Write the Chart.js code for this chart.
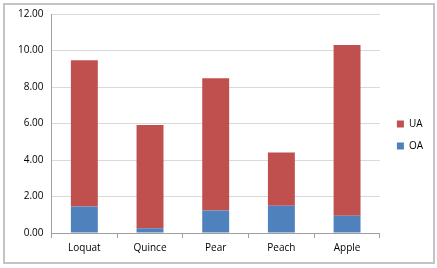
<!DOCTYPE html>
<html>
<head>
<meta charset="utf-8">
<script src="https://cdn.jsdelivr.net/npm/chart.js@4.4.0/dist/chart.umd.min.js"></script>
<style>
  body { margin: 0; background: #fff; }
  #wrap { position: relative; width: 437px; height: 268px; }
  #frame { position: absolute; left: 3px; top: 3px; width: 428px; height: 257px; border: 2px solid #c4c4c4; pointer-events: none; }
</style>
</head>
<body>
<div id="wrap">
  <canvas id="grafico" width="437" height="268"></canvas>
  <div id="frame"></div>
</div>
<script>
var frutas = ['Loquat', 'Quince', 'Pear', 'Peach', 'Apple']
var valoresOA = [1.45, 0.26, 1.23, 1.49, 0.94]
var valoresUA = [8.01, 5.66, 7.25, 2.92, 9.36]
var ticksY = [0, 2, 4, 6, 8, 10, 12]

var fonte = { family: 'Open Sans', size: 10 }

const dados = {
    labels: frutas,
    datasets: [{
        label: 'OA',
        backgroundColor: '#4F81BD',
        data: valoresOA
    },
    {
        label: 'UA',
        backgroundColor: '#C0504D',
        data: valoresUA
    }]
}

const config = {
    type: 'bar',
    data: dados,
    options: {
        responsive: false,
        animation: false,
        layout: { padding: { left: 10, top: 12, right: 4, bottom: 10 } },
        datasets: { bar: { barPercentage: 0.41, categoryPercentage: 1 } },
        plugins: {
            legend: {
                position: 'right',
                reverse: true,
                labels: { boxWidth: 7, boxHeight: 7, padding: 12, color: '#000', font: fonte }
            },
            tooltip: { enabled: false }
        },
        scales: {
            x: {
                stacked: true,
                grid: { offset: true, drawOnChartArea: false, tickLength: 5, color: '#a0a0a0' },
                border: { color: '#a0a0a0' },
                ticks: { color: '#000', font: fonte, padding: 4 }
            },
            y: {
                stacked: true,
                min: 0,
                max: 12,
                afterBuildTicks: function (eixo) {
                    eixo.ticks = ticksY.map(function (v) { return { value: v } })
                },
                grid: { color: '#d9d9d9', tickLength: 0 },
                border: { color: '#a0a0a0' },
                ticks: {
                    color: '#000', font: fonte, padding: 8,
                    callback: function (v) { return Number(v).toFixed(2) }
                }
            },
            // eixo vazio so para dar espaco entre o grafico e a legenda
            espaco: {
                position: 'right',
                display: true,
                grid: { display: false },
                border: { display: false },
                ticks: { display: false },
                afterFit: function (eixo) { eixo.width = 5 }
            }
        }
    }
}

const meuGrafico = new Chart(document.getElementById('grafico'), config)
</script>
</body>
</html>
